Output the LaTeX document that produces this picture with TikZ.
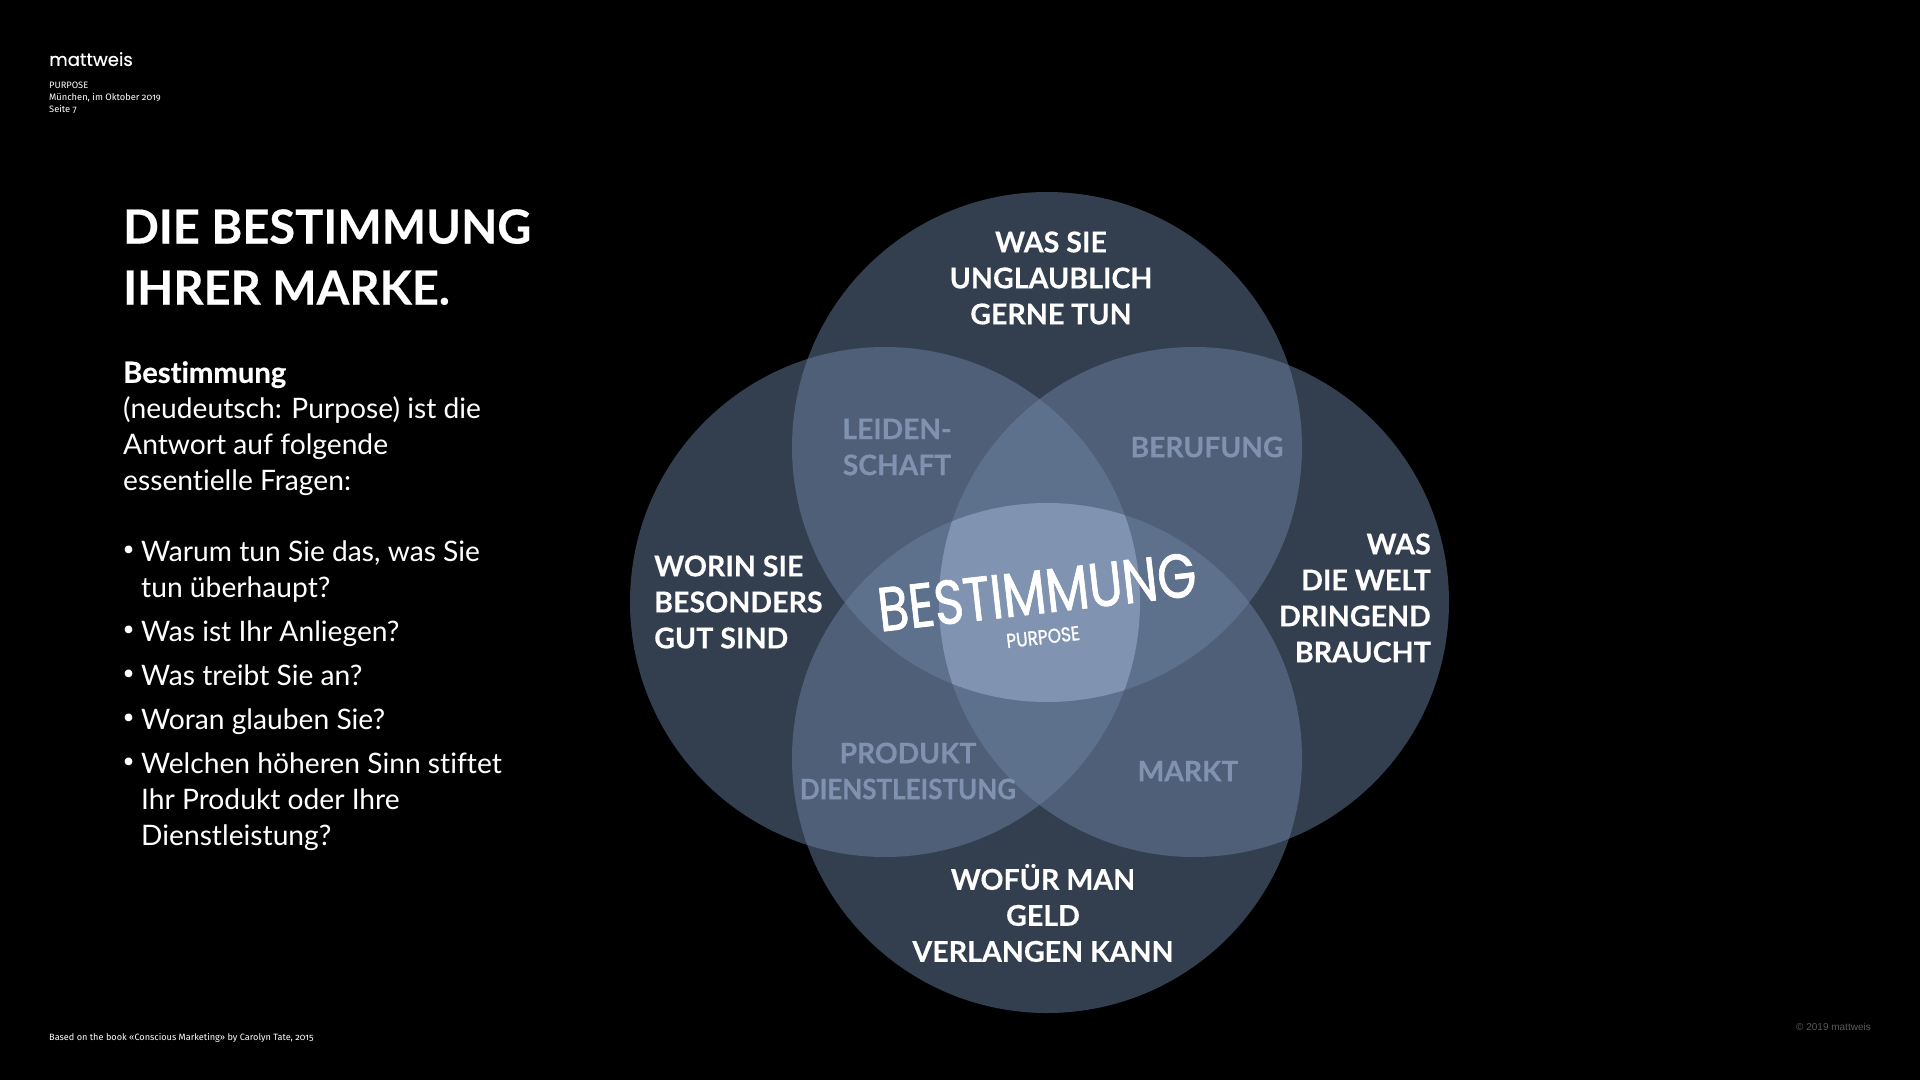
\documentclass[tikz,border=0pt]{standalone}
\usepackage{fontspec}
\setmainfont[Ligatures=NoCommon,BoldFeatures={FakeBold=0.35}]{Lato}
\newfontfamily\smallface[Numbers=OldStyle]{Fira Sans}
\newfontfamily\logoface[FakeBold=0.5]{Poppins}
\newfontfamily\helvface{Liberation Sans}
\newfontfamily\chalkface[FakeBold=1.3]{Poppins}
\newfontfamily\bulletface{Fira Sans}
\newcommand{\bul}{\makebox[18pt][l]{\bulletface\fontsize{34}{36}\selectfont •}}
\newcommand{\ind}{\hspace*{18pt}}
\definecolor{cOne}{HTML}{333F4F}
\definecolor{cTwo}{HTML}{4E5F77}
\definecolor{cThree}{HTML}{5E718C}
\definecolor{cFour}{HTML}{8094B1}
\definecolor{cLab}{HTML}{7F93B0}
\tikzset{
  x=1pt,y=-1pt,
  petal/.style={circle,minimum size=510pt,inner sep=0pt,fill=cOne},
  headlab/.style={text=white,font=\fontsize{28.6}{36}\selectfont\bfseries,align=center,inner sep=0pt},
  dimlab/.style={text=cLab,font=\fontsize{28.2}{36}\selectfont\bfseries,align=center,inner sep=0pt},
  body/.style={text=white,font=\fontsize{28.2}{36}\selectfont,align=left,anchor=north west,inner sep=0pt},
  small/.style={text=white,font=\smallface\fontsize{9.3}{12}\selectfont,align=left,anchor=north west,inner sep=0pt},
}
\newcommand{\cT}{(1047,447) circle (255)}
\newcommand{\cL}{(885,602) circle (255)}
\newcommand{\cR}{(1194,602) circle (255)}
\newcommand{\cB}{(1047,758) circle (255)}
\begin{document}
\begin{tikzpicture}
\useasboundingbox (0,0) rectangle (1920,1080);
\fill[black] (0,0) rectangle (1920,1080);
\node[petal] (top) at (1047,447) {};
\node[petal] (left) at (885,602) {};
\node[petal] (right) at (1194,602) {};
\node[petal] (bottom) at (1047,758) {};
\begin{scope}\clip \cT; \fill[cTwo] \cL; \fill[cTwo] \cR; \end{scope}
\begin{scope}\clip \cB; \fill[cTwo] \cL; \fill[cTwo] \cR; \end{scope}
\begin{scope}\clip \cL; \fill[cThree] \cR; \end{scope}
\begin{scope}\clip \cT; \fill[cThree] \cB; \end{scope}
\begin{scope}\clip \cL; \clip \cR; \clip \cT; \fill[cFour] \cB; \end{scope}

\node[small,font=\logoface\fontsize{18}{20}\selectfont] (logo) at (49,52) {mattweis};
\node[small] (meta) at (49,82) {PURPOSE\\München, im Oktober 2019\\Seite 7};
\node[text=white,font=\fontsize{47}{61}\selectfont\bfseries,align=left,anchor=north west,inner sep=0pt] (title) at (123,209) {DIE BESTIMMUNG\\IHRER MARKE.};
\node[body] (intro) at (123,361) {{\fontsize{29.2}{36}\selectfont\textbf{Bestimmung}}\\(neudeutsch: Purpose) ist die\\Antwort auf folgende\\essentielle Fragen:};
\node[body] (b1) at (123,541) {\bul Warum tun Sie das, was Sie\\\ind tun überhaupt?};
\node[body] (b2) at (123,621) {\bul Was ist Ihr Anliegen?};
\node[body] (b3) at (123,665) {\bul Was treibt Sie an?};
\node[body] (b4) at (123,709) {\bul Woran glauben Sie?};
\node[body] (b5) at (123,753) {\bul Welchen höheren Sinn stiftet\\\ind Ihr Produkt oder Ihre\\\ind Dienstleistung?};

\node[headlab] (l1) at (1051,278) {WAS SIE\\UNGLAUBLICH\\GERNE TUN};
\node[headlab,align=left,anchor=west] (l2) at (654,602) {WORIN SIE\\BESONDERS\\GUT SIND};
\node[headlab,align=right,anchor=east] (l3) at (1431,598) {WAS\\DIE WELT\\DRINGEND\\BRAUCHT};
\node[headlab] (l4) at (1043,913) {WOFÜR MAN\\GELD\\VERLANGEN KANN};
\node[dimlab] (d1) at (897,447) {LEIDEN-\\SCHAFT};
\node[dimlab] (d2) at (1207,447) {BERUFUNG};
\node[dimlab] (d3) at (908,771) {PRODUKT\\\scalebox{.92}[1]{DIENSTLEISTUNG}};
\node[dimlab] (d4) at (1188,771) {MARKT};
\node[text=white,font=\chalkface\fontsize{62}{62}\selectfont,rotate=6.5,xscale=.81,inner sep=0pt] (main) at (1037,592) {BESTIMMUNG};
\node[text=white,font=\chalkface\fontsize{20}{20}\selectfont,rotate=6.5,xscale=.85,inner sep=0pt] (sub) at (1043,637) {PURPOSE};
\node[small,font=\smallface\fontsize{9.15}{12}\selectfont] (foot) at (49,1033) {Based on the book «Conscious Marketing» by Carolyn Tate, 2015};
\node[small,text=white!35!black,font=\helvface\fontsize{10}{12}\selectfont,anchor=north east] (copy) at (1871,1023) {© 2019 mattweis};
\end{tikzpicture}
\end{document}
